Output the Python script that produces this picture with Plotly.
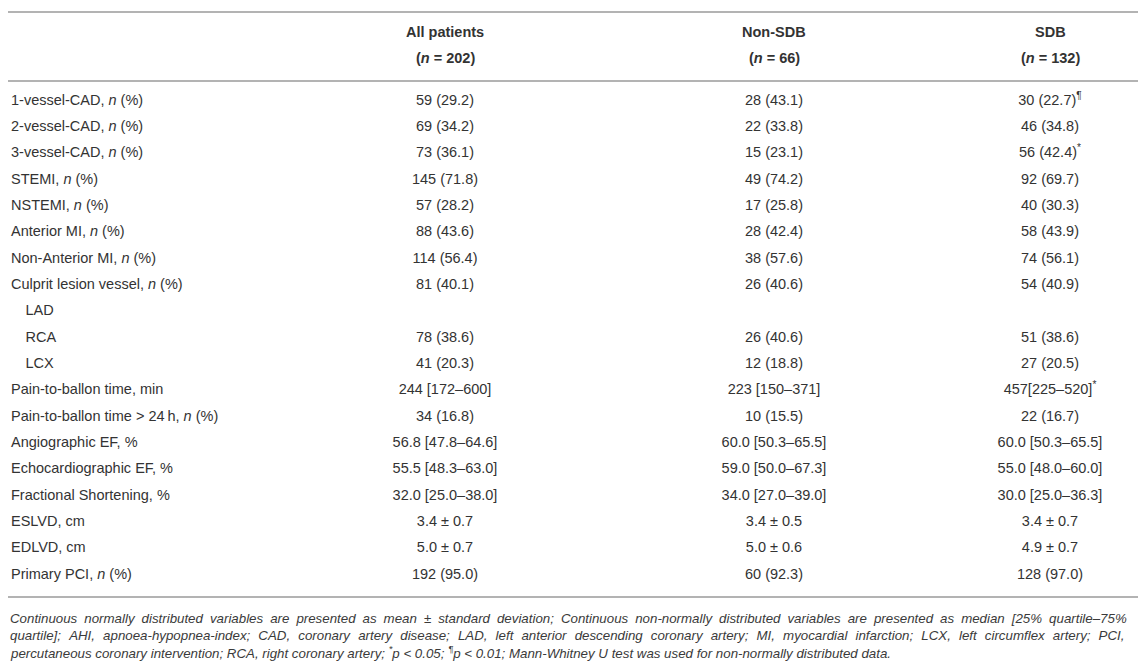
import plotly.graph_objects as go

W, H = 1146, 664

# column headers
groups = ['All patients', 'Non-SDB', 'SDB']
group_n = [202, 66, 132]

row_labels = [
    '1-vessel-CAD, <i>n</i> (%)',
    '2-vessel-CAD, <i>n</i> (%)',
    '3-vessel-CAD, <i>n</i> (%)',
    'STEMI, <i>n</i> (%)',
    'NSTEMI, <i>n</i> (%)',
    'Anterior MI, <i>n</i> (%)',
    'Non-Anterior MI, <i>n</i> (%)',
    'Culprit lesion vessel, <i>n</i> (%)',
    '\u2003LAD',
    '\u2003RCA',
    '\u2003LCX',
    'Pain-to-ballon time, min',
    'Pain-to-ballon time &gt; 24\u2009h, <i>n</i> (%)',
    'Angiographic EF, %',
    'Echocardiographic EF, %',
    'Fractional Shortening, %',
    'ESLVD, cm',
    'EDLVD, cm',
    'Primary PCI, <i>n</i> (%)',
]

all_patients = [
    '59 (29.2)', '69 (34.2)', '73 (36.1)', '145 (71.8)', '57 (28.2)',
    '88 (43.6)', '114 (56.4)', '81 (40.1)', '', '78 (38.6)', '41 (20.3)',
    '244 [172–600]', '34 (16.8)', '56.8 [47.8–64.6]', '55.5 [48.3–63.0]',
    '32.0 [25.0–38.0]', '3.4 ± 0.7', '5.0 ± 0.7', '192 (95.0)',
]

non_sdb = [
    '28 (43.1)', '22 (33.8)', '15 (23.1)', '49 (74.2)', '17 (25.8)',
    '28 (42.4)', '38 (57.6)', '26 (40.6)', '', '26 (40.6)', '12 (18.8)',
    '223 [150–371]', '10 (15.5)', '60.0 [50.3–65.5]', '59.0 [50.0–67.3]',
    '34.0 [27.0–39.0]', '3.4 ± 0.5', '5.0 ± 0.6', '60 (92.3)',
]

sdb = [
    '30 (22.7)', '46 (34.8)', '56 (42.4)', '92 (69.7)', '40 (30.3)',
    '58 (43.9)', '74 (56.1)', '54 (40.9)', '', '51 (38.6)', '27 (20.5)',
    '457[225–520]', '22 (16.7)', '60.0 [50.3–65.5]', '55.0 [48.0–60.0]',
    '30.0 [25.0–36.3]', '3.4 ± 0.7', '4.9 ± 0.7', '128 (97.0)',
]
sdb_marks = ['¶', '', '*', '', '', '', '', '', '', '', '', '*',
             '', '', '', '', '', '', '']

footnote = [
    'Continuous normally distributed variables are presented as mean ± standard deviation; '
    'Continuous non-normally distributed variables are presented as median [25% quartile–75%',
    'quartile]; AHI, apnoea-hypopnea-index; CAD, coronary artery disease; LAD, left anterior '
    'descending coronary artery; MI, myocardial infarction; LCX, left circumflex artery; PCI,',
    'percutaneous coronary intervention; RCA, right coronary artery; <sup>*</sup>p &lt; 0.05; '
    '<sup>¶</sup>p &lt; 0.01; Mann-Whitney U test was used for non-normally distributed data.',
]

FONT = 'Liberation Sans, Arial, Helvetica, sans-serif'
TEXT = '#333333'
RULE = '#b3b3b3'

# layout in pixels
LABEL_X = 3
COL_X = [437, 766, 1042]
ROW0_Y = 93
ROW_H = 26.33
HEAD_Y = [24, 50]
RULE_Y = [4, 73, 589]
FOOT_Y = [610, 627, 644]
# the footnote is justified in the source, so its word gaps get a little extra
FOOT_GAP = ['\u2005', '\u2004', '']


def py(p):
    # pixel from top -> paper fraction
    return 1 - p / H


def main():
    rows = list(range(len(row_labels)))
    sdb_col = [v + ('<sup>%s</sup>' % m if m else '') for v, m in zip(sdb, sdb_marks)]
    font = dict(family=FONT, size=14.5, color=TEXT)

    fig = go.Figure()
    fig.add_trace(go.Scatter(
        x=[LABEL_X] * len(rows), y=rows, text=row_labels, mode='text',
        textposition='middle right', textfont=font, hoverinfo='skip'))
    for cx, col in zip(COL_X, [all_patients, non_sdb, sdb_col]):
        fig.add_trace(go.Scatter(
            x=[cx] * len(rows), y=rows, text=col, mode='text',
            textposition='middle center', textfont=font, hoverinfo='skip'))

    for cx, g, n in zip(COL_X, groups, group_n):
        for hy, t in zip(HEAD_Y, ['<b>%s</b>' % g, '<b>(<i>n</i> = %d)</b>' % n]):
            fig.add_annotation(text=t, x=cx, xref='x', y=py(hy), yref='paper',
                               showarrow=False, xanchor='center', yanchor='middle',
                               font=font)

    for ry in RULE_Y:
        fig.add_shape(type='line', xref='x', yref='paper',
                      x0=0, x1=1143, y0=py(ry), y1=py(ry),
                      line=dict(color=RULE, width=1.8))

    for fy, gap, line in zip(FOOT_Y, FOOT_GAP, footnote):
        fig.add_annotation(
            text='<i>' + line.replace(' ', ' ' + gap) + '</i>',
            x=0, xref='x', y=py(fy), yref='paper',
            xanchor='left', yanchor='middle', align='left', showarrow=False,
            font=dict(family=FONT, size=13.3, color='#3a3a3a'))

    # row 0 sits at ROW0_Y px, rows go down ROW_H px apart
    y_top = -ROW0_Y / ROW_H
    y_bot = (H - ROW0_Y) / ROW_H

    fig.update_layout(
        width=W, height=H,
        margin=dict(l=0, r=0, t=0, b=0),
        paper_bgcolor='white', plot_bgcolor='white',
        showlegend=False,
        xaxis=dict(range=[0, W], visible=False, fixedrange=True),
        yaxis=dict(range=[y_bot, y_top], visible=False, fixedrange=True),
    )
    fig.write_html('out.html')


if __name__ == '__main__':
    main()
